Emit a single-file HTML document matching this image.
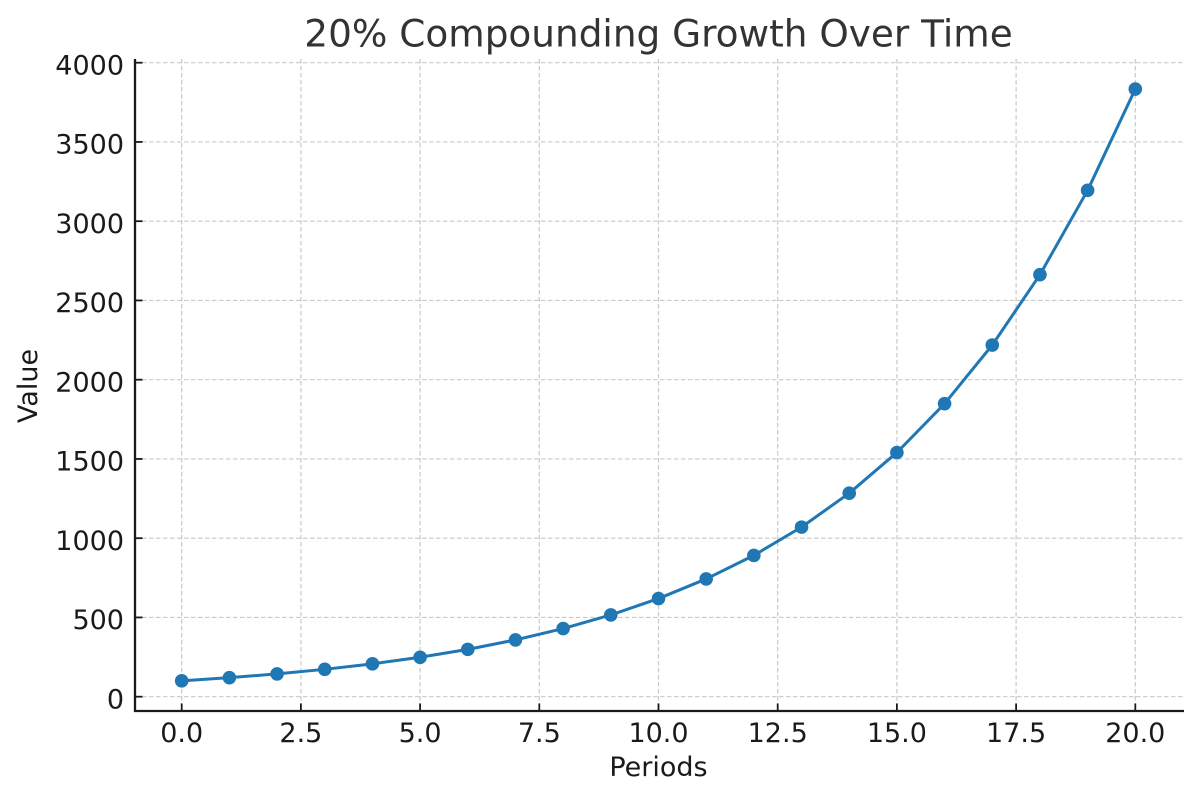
<!DOCTYPE html>
<html>
<head>
<meta charset="utf-8">
<style>
  html,body{margin:0;padding:0;background:#fff;}
  svg{display:block;}
  text{font-family:"DejaVu Sans","Liberation Sans",sans-serif;}
</style>
</head>
<body>
<svg width="1199" height="801" viewBox="0 0 1199 801" xmlns="http://www.w3.org/2000/svg">
  <rect x="0" y="0" width="1199" height="801" fill="#fff"/>
  <!-- grid -->
  <g stroke="#c9c9c9" stroke-width="1.2" stroke-dasharray="4.5,2.5" fill="none">
    <line x1="135" y1="696.7" x2="1184" y2="696.7"/>
    <line x1="135" y1="617.45" x2="1184" y2="617.45"/>
    <line x1="135" y1="538.2" x2="1184" y2="538.2"/>
    <line x1="135" y1="458.95" x2="1184" y2="458.95"/>
    <line x1="135" y1="379.7" x2="1184" y2="379.7"/>
    <line x1="135" y1="300.45" x2="1184" y2="300.45"/>
    <line x1="135" y1="221.2" x2="1184" y2="221.2"/>
    <line x1="135" y1="141.95" x2="1184" y2="141.95"/>
    <line x1="135" y1="62.7" x2="1184" y2="62.7"/>
    <line x1="181.7" y1="59" x2="181.7" y2="711"/>
    <line x1="300.9" y1="59" x2="300.9" y2="711"/>
    <line x1="420.1" y1="59" x2="420.1" y2="711"/>
    <line x1="539.3" y1="59" x2="539.3" y2="711"/>
    <line x1="658.5" y1="59" x2="658.5" y2="711"/>
    <line x1="777.7" y1="59" x2="777.7" y2="711"/>
    <line x1="896.9" y1="59" x2="896.9" y2="711"/>
    <line x1="1016.1" y1="59" x2="1016.1" y2="711"/>
    <line x1="1135.3" y1="59" x2="1135.3" y2="711"/>
  </g>
  <!-- series -->
  <polyline fill="none" stroke="#1f77b4" stroke-width="3" stroke-linejoin="round" stroke-linecap="round"
    points="181.7,680.85 229.38,677.68 277.06,673.88 324.74,669.31 372.42,663.83 420.1,657.26 467.78,649.37 515.46,639.91 563.14,628.55 610.82,614.92 658.5,598.56 706.18,578.93 753.86,555.38 801.54,527.12 849.22,493.2 896.9,452.5 944.58,403.66 992.26,345.05 1039.94,274.72 1087.62,190.32 1135.3,89.05"/>
  <g fill="#1f77b4">
    <circle cx="181.7" cy="680.85" r="6.8"/>
    <circle cx="229.38" cy="677.68" r="6.8"/>
    <circle cx="277.06" cy="673.88" r="6.8"/>
    <circle cx="324.74" cy="669.31" r="6.8"/>
    <circle cx="372.42" cy="663.83" r="6.8"/>
    <circle cx="420.1" cy="657.26" r="6.8"/>
    <circle cx="467.78" cy="649.37" r="6.8"/>
    <circle cx="515.46" cy="639.91" r="6.8"/>
    <circle cx="563.14" cy="628.55" r="6.8"/>
    <circle cx="610.82" cy="614.92" r="6.8"/>
    <circle cx="658.5" cy="598.56" r="6.8"/>
    <circle cx="706.18" cy="578.93" r="6.8"/>
    <circle cx="753.86" cy="555.38" r="6.8"/>
    <circle cx="801.54" cy="527.12" r="6.8"/>
    <circle cx="849.22" cy="493.2" r="6.8"/>
    <circle cx="896.9" cy="452.5" r="6.8"/>
    <circle cx="944.58" cy="403.66" r="6.8"/>
    <circle cx="992.26" cy="345.05" r="6.8"/>
    <circle cx="1039.94" cy="274.72" r="6.8"/>
    <circle cx="1087.62" cy="190.32" r="6.8"/>
    <circle cx="1135.3" cy="89.05" r="6.8"/>
  </g>
  <!-- spines -->
  <g stroke="#1a1a1a" stroke-width="2.3" fill="none">
    <line x1="135" y1="59" x2="135" y2="712"/>
    <line x1="134" y1="711" x2="1184" y2="711"/>
  </g>
  <!-- ticks (inward) -->
  <g stroke="#1a1a1a" stroke-width="1.8">
    <line x1="135" y1="696.7" x2="142.5" y2="696.7"/>
    <line x1="135" y1="617.45" x2="142.5" y2="617.45"/>
    <line x1="135" y1="538.2" x2="142.5" y2="538.2"/>
    <line x1="135" y1="458.95" x2="142.5" y2="458.95"/>
    <line x1="135" y1="379.7" x2="142.5" y2="379.7"/>
    <line x1="135" y1="300.45" x2="142.5" y2="300.45"/>
    <line x1="135" y1="221.2" x2="142.5" y2="221.2"/>
    <line x1="135" y1="141.95" x2="142.5" y2="141.95"/>
    <line x1="135" y1="62.7" x2="142.5" y2="62.7"/>
    <line x1="181.7" y1="711" x2="181.7" y2="703.5"/>
    <line x1="300.9" y1="711" x2="300.9" y2="703.5"/>
    <line x1="420.1" y1="711" x2="420.1" y2="703.5"/>
    <line x1="539.3" y1="711" x2="539.3" y2="703.5"/>
    <line x1="658.5" y1="711" x2="658.5" y2="703.5"/>
    <line x1="777.7" y1="711" x2="777.7" y2="703.5"/>
    <line x1="896.9" y1="711" x2="896.9" y2="703.5"/>
    <line x1="1016.1" y1="711" x2="1016.1" y2="703.5"/>
    <line x1="1135.3" y1="711" x2="1135.3" y2="703.5"/>
  </g>
  <!-- y tick labels -->
  <g fill="#1a1a1a" font-size="27" text-anchor="end">
    <text x="124" y="708.5">0</text>
    <text x="124" y="629.2">500</text>
    <text x="124" y="550">1000</text>
    <text x="124" y="470.7">1500</text>
    <text x="124" y="391.5">2000</text>
    <text x="124" y="312.2">2500</text>
    <text x="124" y="233">3000</text>
    <text x="124" y="153.7">3500</text>
    <text x="124" y="74.5">4000</text>
  </g>
  <!-- x tick labels -->
  <g fill="#1a1a1a" font-size="27" text-anchor="middle">
    <text x="181.7" y="742">0.0</text>
    <text x="300.9" y="742">2.5</text>
    <text x="420.1" y="742">5.0</text>
    <text x="539.3" y="742">7.5</text>
    <text x="658.5" y="742">10.0</text>
    <text x="777.7" y="742">12.5</text>
    <text x="896.9" y="742">15.0</text>
    <text x="1016.1" y="742">17.5</text>
    <text x="1135.3" y="742">20.0</text>
  </g>
  <!-- axis labels -->
  <text x="658.5" y="776" fill="#1a1a1a" font-size="27" text-anchor="middle">Periods</text>
  <text transform="translate(37,386) rotate(-90)" fill="#1a1a1a" font-size="27" text-anchor="middle">Value</text>
  <!-- title -->
  <text x="658.5" y="46.5" fill="#333" font-size="37.4" text-anchor="middle">20% Compounding Growth Over Time</text>
</svg>
</body>
</html>
